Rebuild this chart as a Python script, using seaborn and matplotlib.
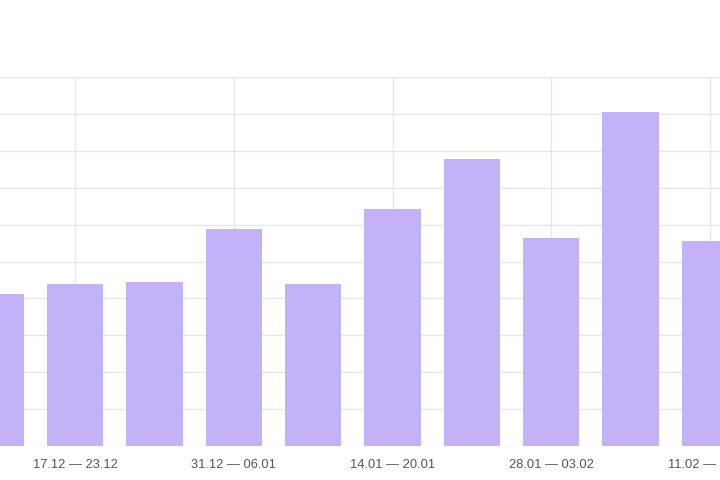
import matplotlib
matplotlib.use("Agg")
import matplotlib.pyplot as plt
import seaborn as sns
import pandas as pd

weeks = ["10.12 — 16.12", "17.12 — 23.12", "24.12 — 30.12", "31.12 — 06.01",
         "07.01 — 13.01", "14.01 — 20.01", "21.01 — 27.01", "28.01 — 03.02",
         "04.02 — 10.02", "11.02 — 17.02"]
values = [41.2, 44.0, 44.4, 58.7, 44.0, 64.1, 77.7, 56.5, 90.4, 55.6]
shown_ticks = [1, 3, 5, 7, 9]

sns.set_theme(style="white")
plt.rcParams['font.family'] = ['Liberation Sans', 'DejaVu Sans']

df = pd.DataFrame({"week": weeks, "value": values})

fig = plt.figure(figsize=(7.2, 4.8), dpi=100)
ax = fig.add_axes([0.0, 1 - 446 / 480, 1.0, (446 - 77) / 480])
ax.set_axisbelow(True)

sns.barplot(data=df, x="week", y="value", color="#c4b2f8", saturation=1,
            width=0.71, ax=ax, linewidth=0)

ax.set_ylim(0, 100)
ax.set_yticks(range(0, 101, 10))
ax.set_yticklabels([])
ax.set_xlim(1 - 75 / 79.375, 1 + 645 / 79.375)
ax.set_xticks(shown_ticks)
ax.set_xticklabels([weeks[i] for i in shown_ticks], fontsize=9.3, color="#555555")
ax.tick_params(axis="both", length=0)
ax.tick_params(axis="x", pad=9.5)
ax.grid(True, axis="both", color="#e6e6e6", linewidth=1)
ax.set_xlabel("")
ax.set_ylabel("")
for s in ax.spines.values():
    s.set_visible(False)

fig.savefig("out.png", dpi=100)
